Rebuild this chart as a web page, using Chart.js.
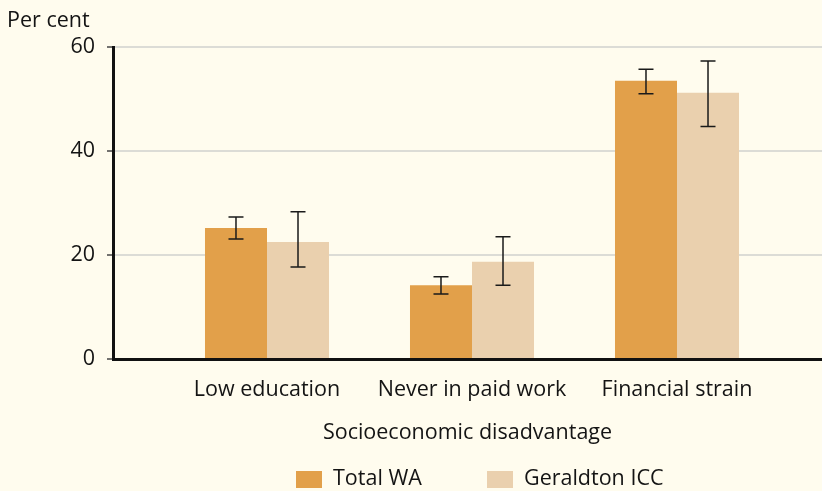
<!DOCTYPE html>
<html>
<head>
<meta charset="utf-8">
<script src="https://cdn.jsdelivr.net/npm/chart.js@4"></script>
<style>
  html, body { margin: 0; padding: 0; background: #fffcee; }
  canvas { display: block; }
</style>
</head>
<body>
<canvas id="myChart" width="822" height="491"></canvas>
<script>
// categorias e valores
const categorias = ['Low education', 'Never in paid work', 'Financial strain']
const totalWA = [25.2, 14.2, 53.5]
const totalWA_baixo = [23.1, 12.5, 51.0]
const totalWA_alto = [27.3, 15.8, 55.7]
const geraldton = [22.5, 18.7, 51.2]
const geraldton_baixo = [17.7, 14.2, 44.7]
const geraldton_alto = [28.3, 23.5, 57.3]
const ticksY = [0, 20, 40, 60]

const fonte = '"Open Sans", "DejaVu Sans", sans-serif'
const tamFonte = 21.5
const corTexto = '#141414'

// barras de erro
const barrasErro = {
  id: 'barrasErro',
  afterDatasetsDraw(chart) {
    const ctx = chart.ctx
    const y = chart.scales.y
    ctx.save()
    ctx.strokeStyle = '#1a1a1a'
    ctx.lineWidth = 1.5
    chart.data.datasets.forEach((ds, i) => {
      chart.getDatasetMeta(i).data.forEach((el, j) => {
        const yA = y.getPixelForValue(ds.alto[j])
        const yB = y.getPixelForValue(ds.baixo[j])
        ctx.beginPath()
        ctx.moveTo(el.x, yA); ctx.lineTo(el.x, yB)
        ctx.moveTo(el.x - 7.5, yA); ctx.lineTo(el.x + 7.5, yA)
        ctx.moveTo(el.x - 7.5, yB); ctx.lineTo(el.x + 7.5, yB)
        ctx.stroke()
      })
    })
    ctx.restore()
  }
}

// "Per cent" e legenda desenhados a mao
const textos = {
  id: 'textos',
  afterDraw(chart) {
    const ctx = chart.ctx
    ctx.save()
    ctx.font = tamFonte + 'px ' + fonte
    ctx.fillStyle = corTexto
    ctx.textBaseline = 'middle'
    ctx.textAlign = 'left'
    ctx.fillText('Per cent', 7, 21)
    const posX = [296, 487]
    chart.data.datasets.forEach((ds, i) => {
      ctx.fillStyle = ds.backgroundColor
      ctx.fillRect(posX[i], 471, 26, 17)
      ctx.fillStyle = corTexto
      ctx.fillText(ds.label, posX[i] + 37, 479)
    })
    ctx.restore()
  }
}

const ctx = document.getElementById('myChart')

new Chart(ctx, {
  type: 'bar',
  data: {
    datasets: [{
      label: 'Total WA',
      data: totalWA.map((v, i) => ({ x: i, y: v })),
      baixo: totalWA_baixo,
      alto: totalWA_alto,
      backgroundColor: '#e2a04a'
    }, {
      label: 'Geraldton ICC',
      data: geraldton.map((v, i) => ({ x: i, y: v })),
      baixo: geraldton_baixo,
      alto: geraldton_alto,
      backgroundColor: '#ead0ae'
    }]
  },
  options: {
    responsive: false,
    animation: false,
    layout: { padding: { top: 47, left: 0, right: 0, bottom: 0 } },
    categoryPercentage: 0.605,
    barPercentage: 1,
    plugins: {
      legend: { display: false },
      tooltip: { enabled: false }
    },
    scales: {
      x: {
        type: 'linear',
        offset: false,
        min: -0.7512,
        max: 2.7073,
        grid: { display: false, offset: false },
        border: { display: true, color: '#111', width: 3 },
        afterBuildTicks: (s) => { s.ticks = categorias.map((c, i) => ({ value: i })) },
        afterFit: (s) => { s.height = 491 - 359 },
        ticks: {
          padding: 10,
          color: corTexto,
          font: { family: fonte, size: tamFonte },
          callback: (v) => categorias[v]
        },
        title: {
          display: true,
          text: 'Socioeconomic disadvantage',
          color: corTexto,
          font: { family: fonte, size: tamFonte },
          padding: { top: 0, bottom: 45 }
        }
      },
      y: {
        min: 0,
        max: 60,
        afterBuildTicks: (s) => { s.ticks = ticksY.map(v => ({ value: v })) },
        afterFit: (s) => { s.width = 113 },
        grid: { color: '#dcdcd6', lineWidth: 2, tickLength: 6, tickColor: '#444', tickWidth: 1.5 },
        border: { display: true, color: '#111', width: 3 },
        ticks: {
          padding: 12,
          color: corTexto,
          font: { family: fonte, size: tamFonte }
        }
      }
    }
  },
  plugins: [barrasErro, textos]
})
</script>
</body>
</html>
